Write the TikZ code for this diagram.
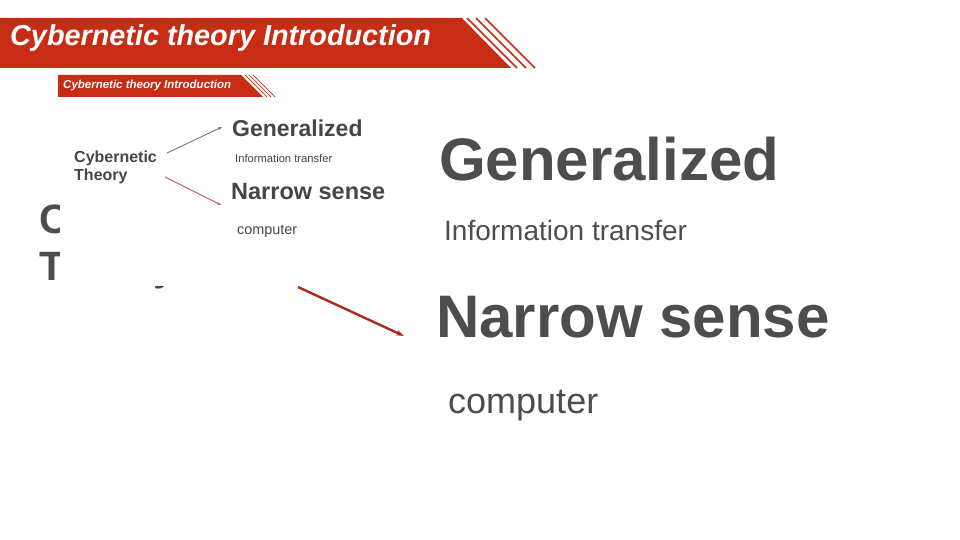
\documentclass[tikz,border=0pt]{standalone}
\usepackage{fontspec}
\setmainfont{Liberation Sans}
\usetikzlibrary{arrows.meta}
\definecolor{bannerred}{RGB}{198,45,20}
\definecolor{txtgray}{RGB}{77,77,79}
\definecolor{insetgray}{RGB}{70,70,72}
\definecolor{arrowred}{RGB}{168,44,26}
\definecolor{thingray}{RGB}{118,118,128}
\definecolor{thinred}{RGB}{208,96,96}
\newcommand{\pxfont}[1]{\fontsize{#1}{#1}\selectfont}
\begin{document}
\begin{tikzpicture}[x=1pt,y=-1pt,
  txt/.style={anchor=base west, inner sep=0pt, text=txtgray},
  insettxt/.style={anchor=base west, inner sep=0pt, text=insetgray},
  bannertxt/.style={anchor=base west, inner sep=0pt, text=white},
  stripe/.style={draw=bannerred, line width=#1},
  bigarrow/.style={draw=arrowred, line width=2.4pt, -{Stealth[length=8pt,width=5.5pt]}},
  smallarrow/.style={line width=0.9pt, -{Stealth[length=4pt,width=3pt]}}]
\useasboundingbox (0,0) rectangle (960,540);
\fill[white] (0,0) rectangle (960,540);

% main title banner
\fill[bannerred] (0,18) -- (462,18) -- (511,68) -- (0,68) -- cycle;
\foreach \i in {0,1,2} {
  \draw[stripe=1.6pt] (467+9*\i,18) -- (517+9*\i,68);
}
\node (title) [bannertxt, font=\pxfont{28.8}\bfseries\itshape] at (10,46) {Cybernetic theory Introduction};

% underlying large text (mostly hidden by the inset picture)
\node (cyb1) [txt, font=\pxfont{41}\bfseries] at (39,233) {Cybernetic};
\node (cyb2) [txt, font=\pxfont{41}\bfseries] at (39,280) {Theory};

% inset picture
\node (inset) [fill=white, minimum width=360pt, minimum height=216pt, anchor=north west, inner sep=0pt] at (60,70) {};
\fill[bannerred] (58,75) -- (241,75) -- (263,97) -- (58,97) -- cycle;
\foreach \i in {0,1,2} {
  \draw[stripe=0.7pt] (245+4*\i,75) -- (267+4*\i,97);
}
\node (ititle) [bannertxt, font=\pxfont{11.5}\bfseries\itshape] at (63,88.5) {Cybernetic theory Introduction};
\node (icyb1) [insettxt, font=\pxfont{16}\bfseries] at (74,163) {Cybernetic};
\node (icyb2) [insettxt, font=\pxfont{16}\bfseries] at (74,181) {Theory};
\node (igen) [insettxt, font=\pxfont{23}\bfseries] at (232,137) {Generalized};
\node (iinfo) [insettxt, font=\pxfont{11.2}] at (235,163) {Information transfer};
\node (inar) [insettxt, font=\pxfont{23.5}\bfseries] at (231,200) {Narrow sense};
\node (icomp) [insettxt, font=\pxfont{14.4}] at (237,234) {computer};
\coordinate (ga) at (167,153);
\coordinate (gb) at (222,127);
\coordinate (na) at (165,177);
\coordinate (nb) at (221,205);
\draw[smallarrow, draw=thingray] (ga) -- (gb);
\draw[smallarrow, draw=thinred] (na) -- (nb);

% large arrow emerging from under the inset
\coordinate (bigA) at (298,287);
\coordinate (bigB) at (404,336);
\draw[bigarrow] (bigA) -- (bigB);

% main texts
\node (gen) [txt, font=\pxfont{60}\bfseries] at (439,180) {Generalized};
\node (info) [txt, font=\pxfont{28}] at (444,240) {Information transfer};
\node (nar) [txt, font=\pxfont{60}\bfseries] at (436,337) {Narrow sense};
\node (comp) [txt, font=\pxfont{36}] at (448,413) {computer};
\end{tikzpicture}
\end{document}
